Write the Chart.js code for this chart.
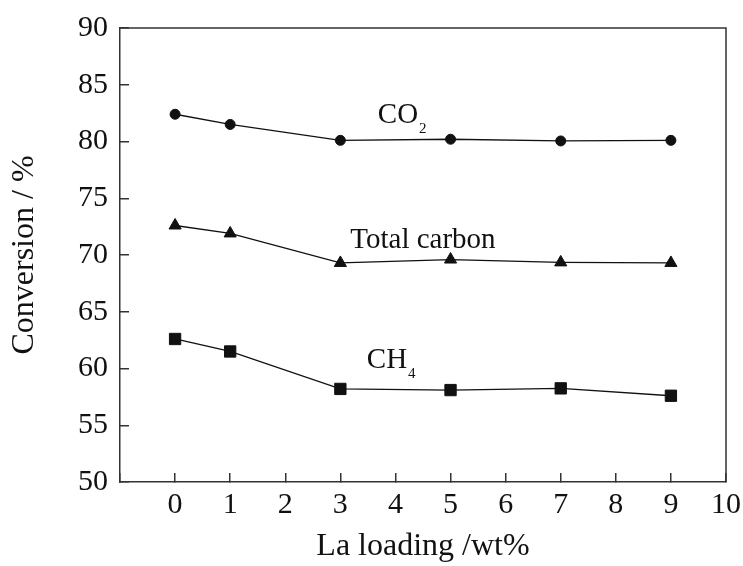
<!DOCTYPE html>
<html>
<head>
<meta charset="utf-8">
<title>Conversion vs La loading</title>
<script src="https://cdn.jsdelivr.net/npm/chart.js@4.4.1/dist/chart.umd.min.js"></script>
<style>
  html, body { margin: 0; padding: 0; background: #ffffff; }
  #wrap { width: 743px; height: 566px; position: relative; }
</style>
</head>
<body>
<div id="wrap"><canvas id="chart" width="743" height="566"></canvas></div>
<script>
// La loading (wt%) at which each catalyst was measured
const laLoading = [0, 1, 3, 5, 7, 9];

// Conversion (%) of each species
const co2Conversion = [82.4, 81.5, 80.1, 80.2, 80.05, 80.1];
const totalCarbonConversion = [72.6, 71.9, 69.3, 69.6, 69.35, 69.3];
const ch4Conversion = [62.6, 61.5, 58.2, 58.1, 58.25, 57.6];

// Axis ranges and tick steps
const xRange = [-1, 10];
const yRange = [50, 90];
const xStep = 1;
const yStep = 5;

const FONT = '"Liberation Serif", "Times New Roman", serif';
const INK = '#111111';
const AXIS = '#333333';

function points(ys) {
  return laLoading.map((x, i) => ({ x: x, y: ys[i] }));
}

function series(label, ys, style, radius) {
  return {
    label: label,
    data: points(ys),
    borderColor: INK,
    backgroundColor: INK,
    borderWidth: 1.3,
    pointStyle: style,
    pointRadius: radius,
    pointHoverRadius: radius,
    pointBorderWidth: 1,
    pointBackgroundColor: INK,
    pointBorderColor: INK,
    tension: 0,
    fill: false
  };
}

// Closes the frame with top and right edges
const frame = {
  id: 'frame',
  afterDraw(chart) {
    const { ctx, chartArea: a } = chart;
    ctx.save();
    ctx.strokeStyle = AXIS;
    ctx.lineWidth = 1.5;
    ctx.beginPath();
    ctx.moveTo(a.left, a.top);
    ctx.lineTo(a.right, a.top);
    ctx.lineTo(a.right, a.bottom);
    ctx.stroke();
    ctx.restore();
  }
};

// Series names written beside their curves, with chemical subscripts
const curveLabels = {
  id: 'curveLabels',
  afterDatasetsDraw(chart, args, opts) {
    const { ctx, scales: { x, y } } = chart;
    ctx.save();
    ctx.fillStyle = INK;
    ctx.textBaseline = 'alphabetic';
    ctx.textAlign = 'left';
    opts.items.forEach(item => {
      let px = x.getPixelForValue(item.at[0]);
      const py = y.getPixelForValue(item.at[1]);
      ctx.font = opts.size + 'px ' + FONT;
      ctx.fillText(item.text, px, py);
      px += ctx.measureText(item.text).width;
      if (item.sub) {
        ctx.font = opts.subSize + 'px ' + FONT;
        ctx.fillText(item.sub, px + 1, py + opts.subDrop);
      }
    });
    ctx.restore();
  }
};

new Chart(document.getElementById('chart'), {
  type: 'line',
  data: {
    datasets: [
      series('CO2', co2Conversion, 'circle', 5),
      series('Total carbon', totalCarbonConversion, 'triangle', 7),
      series('CH4', ch4Conversion, 'rect', 8)
    ]
  },
  options: {
    responsive: false,
    animation: false,
    layout: { padding: { top: 28, right: 17, bottom: 0, left: 0 } },
    plugins: {
      legend: { display: false },
      tooltip: { enabled: false },
      curveLabels: {
        size: 29,
        subSize: 15,
        subDrop: 10,
        items: [
          { text: 'CO', sub: '2', at: [3.68, 81.63] },
          { text: 'Total carbon', at: [3.18, 70.62] },
          { text: 'CH', sub: '4', at: [3.48, 60.04] }
        ]
      }
    },
    scales: {
      x: {
        type: 'linear',
        min: xRange[0],
        max: xRange[1],
        afterFit(scale) {
          scale.height = 84;
          scale.paddingLeft = 0;
          scale.paddingRight = 0;
        },
        ticks: {
          stepSize: xStep,
          autoSkip: false,
          maxRotation: 0,
          padding: 14,
          color: INK,
          font: { family: FONT, size: 30 },
          callback: v => (v < 0 ? '' : String(v))
        },
        grid: {
          drawOnChartArea: false,
          drawTicks: true,
          tickLength: -9,
          color: AXIS,
          lineWidth: 1.5
        },
        border: { display: true, color: AXIS, width: 1.5 },
        title: {
          display: true,
          text: 'La loading /wt%',
          color: INK,
          font: { family: FONT, size: 32 },
          padding: { top: 0, bottom: 0 }
        }
      },
      y: {
        type: 'linear',
        min: yRange[0],
        max: yRange[1],
        afterFit(scale) {
          scale.width = 120;
          scale.paddingTop = 0;
          scale.paddingBottom = 0;
        },
        ticks: {
          stepSize: yStep,
          padding: 21,
          color: INK,
          font: { family: FONT, size: 30 }
        },
        grid: {
          drawOnChartArea: false,
          drawTicks: true,
          tickLength: -9,
          color: AXIS,
          lineWidth: 1.5
        },
        border: { display: true, color: AXIS, width: 1.5 },
        title: {
          display: true,
          text: 'Conversion / %',
          color: INK,
          font: { family: FONT, size: 32 },
          padding: { top: 5, bottom: 0 }
        }
      }
    }
  },
  plugins: [frame, curveLabels]
});
</script>
</body>
</html>
